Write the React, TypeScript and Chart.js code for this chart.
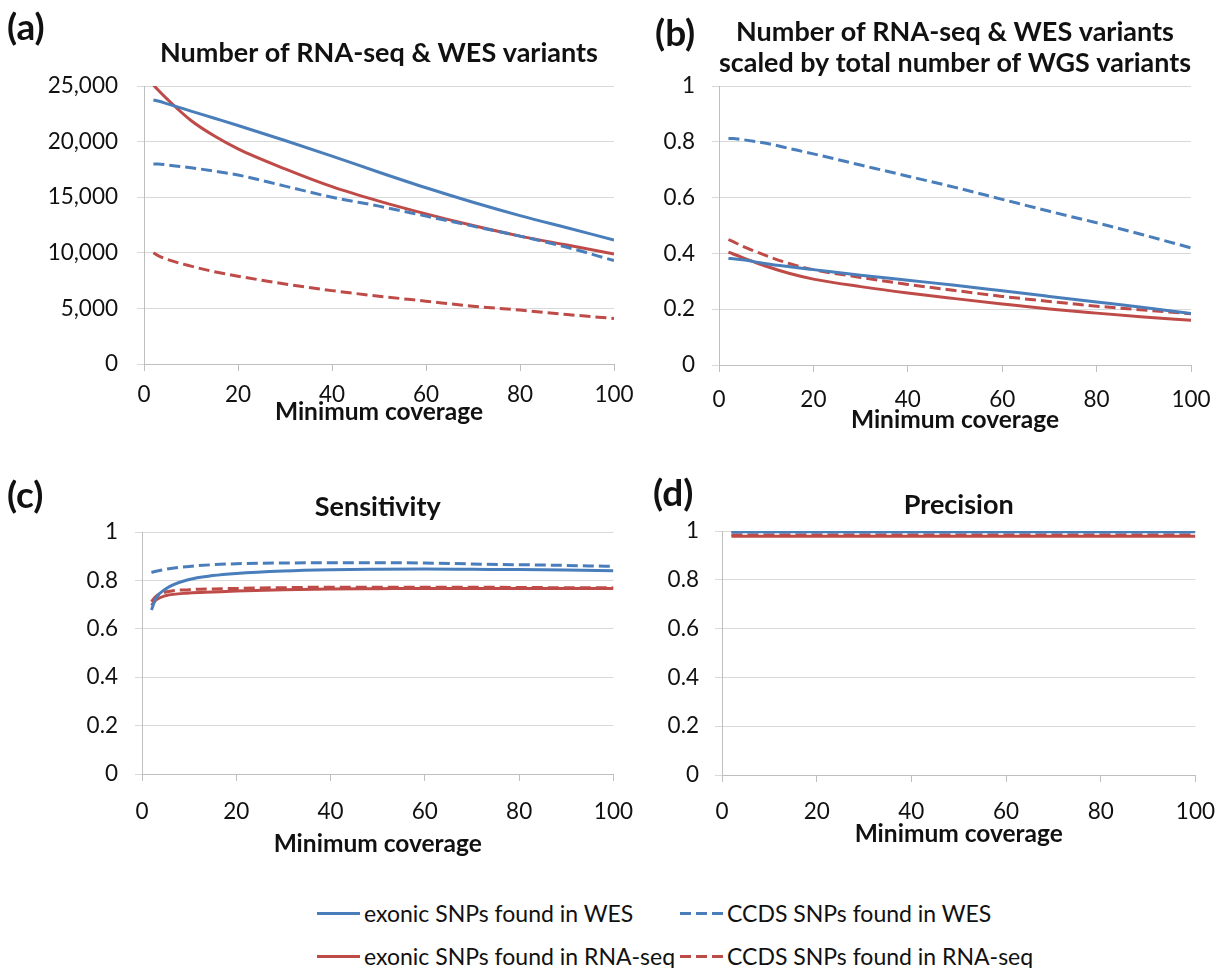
import React, { useEffect, useRef } from 'react';
import { Chart, registerables } from 'chart.js';

Chart.register(...registerables);

// ---------- data ----------
const coverage = [2, 3, 5, 10, 15, 20, 30, 40, 50, 60, 70, 80, 90, 100];

const seriesNames = [
  'exonic SNPs found in WES',
  'CCDS SNPs found in WES',
  'exonic SNPs found in RNA-seq',
  'CCDS SNPs found in RNA-seq',
];

// (a) Number of RNA-seq & WES variants
const aExonicWES = [23750, 23650, 23400, 22750, 22100, 21450, 20100, 18700, 17250, 15850, 14550, 13350, 12250, 11150];
const aCcdsWES = [18000, 18000, 17900, 17650, 17350, 17000, 16000, 15000, 14200, 13300, 12400, 11500, 10500, 9300];
const aExonicRNA = [25100, 24650, 23800, 21900, 20500, 19350, 17550, 15950, 14650, 13500, 12450, 11500, 10700, 9900];
const aCcdsRNA = [10000, 9750, 9400, 8800, 8300, 7900, 7200, 6600, 6100, 5650, 5200, 4850, 4450, 4100];

// (b) scaled by total number of WGS variants
const bExonicWES = [0.382, 0.381, 0.377, 0.363, 0.352, 0.342, 0.322, 0.304, 0.286, 0.266, 0.246, 0.226, 0.206, 0.185];
const bCcdsWES = [0.812, 0.812, 0.808, 0.795, 0.776, 0.757, 0.717, 0.677, 0.637, 0.594, 0.551, 0.51, 0.466, 0.42];
const bExonicRNA = [0.405, 0.398, 0.385, 0.354, 0.328, 0.308, 0.281, 0.258, 0.238, 0.219, 0.201, 0.186, 0.172, 0.16];
const bCcdsRNA = [0.45, 0.442, 0.426, 0.392, 0.363, 0.342, 0.314, 0.289, 0.267, 0.246, 0.228, 0.211, 0.197, 0.184];

// (c) Sensitivity
const cExonicWES = [0.678, 0.728, 0.765, 0.804, 0.82, 0.829, 0.839, 0.844, 0.846, 0.847, 0.846, 0.845, 0.843, 0.84];
const cCcdsWES = [0.833, 0.838, 0.846, 0.858, 0.865, 0.869, 0.872, 0.873, 0.873, 0.872, 0.868, 0.865, 0.862, 0.858];
const cExonicRNA = [0.697, 0.72, 0.737, 0.748, 0.752, 0.756, 0.762, 0.765, 0.766, 0.767, 0.767, 0.767, 0.767, 0.767];
const cCcdsRNA = [0.712, 0.735, 0.752, 0.762, 0.765, 0.767, 0.77, 0.772, 0.772, 0.772, 0.772, 0.771, 0.77, 0.77];

// (d) Precision
const dExonicWES = [0.997, 0.997, 0.997, 0.997, 0.997, 0.997, 0.997, 0.997, 0.997, 0.997, 0.997, 0.997, 0.997, 0.997];
const dCcdsWES = [0.996, 0.996, 0.996, 0.996, 0.996, 0.996, 0.996, 0.996, 0.996, 0.996, 0.996, 0.996, 0.996, 0.996];
const dExonicRNA = [0.979, 0.979, 0.979, 0.979, 0.979, 0.979, 0.979, 0.979, 0.979, 0.979, 0.979, 0.979, 0.979, 0.979];
const dCcdsRNA = [0.984, 0.984, 0.984, 0.984, 0.984, 0.984, 0.984, 0.984, 0.984, 0.984, 0.984, 0.984, 0.984, 0.984];

const xTicks = [0, 20, 40, 60, 80, 100];

// ---------- styles ----------
const BLUE = '#4A7EBB';
const RED = '#BE4B48';
const GRID = '#D9D9D9';
const AXIS = '#BFBFBF';
const TEXT = '#111111';
const FONT = 'Lato, "Open Sans", sans-serif';
const DASH = [11, 5];

type PanelProps = {
  left: number;
  top: number;
  width: number;
  height: number;
  title: string[];
  titlePadTop: number;
  titlePadBottom: number;
  plotLeft: number; // relative to canvas
  plotBottom: number; // relative to canvas
  rightPad: number;
  yMax: number;
  yStep: number;
  yTickPad: number;
  xTickPad: number;
  xTitlePadBottom: number;
  series: number[][];
};

function formatY(v: number, yMax: number) {
  if (yMax > 1) return Number(v).toLocaleString('en-US');
  return String(Math.round(v * 10) / 10);
}

function Panel(p: PanelProps) {
  const ref = useRef<HTMLCanvasElement | null>(null);
  useEffect(() => {
    const styles = [
      { color: BLUE, dash: [] as number[] },
      { color: BLUE, dash: DASH },
      { color: RED, dash: [] as number[] },
      { color: RED, dash: DASH },
    ];
    const datasets = p.series.map((vals, i) => ({
      label: seriesNames[i],
      data: coverage.map((x, j) => ({ x, y: vals[j] })),
      borderColor: styles[i].color,
      borderDash: styles[i].dash,
      borderWidth: 3,
      pointRadius: 0,
      cubicInterpolationMode: 'monotone' as const,
      fill: false,
    }));
    const xHeight = p.height - p.plotBottom;
    const chart = new Chart(ref.current as HTMLCanvasElement, {
      type: 'line',
      data: { datasets },
      options: {
        animation: false,
        responsive: false,
        maintainAspectRatio: false,
        locale: 'en-US',
        layout: { padding: { left: 0, top: 0, right: p.rightPad, bottom: 0 } },
        plugins: {
          legend: { display: false },
          tooltip: { enabled: false },
          title: {
            display: true,
            text: p.title,
            fullSize: false,
            color: TEXT,
            font: { family: FONT, size: 27, weight: 'bold', lineHeight: 1.15 },
            padding: { top: p.titlePadTop, bottom: p.titlePadBottom },
          },
        },
        scales: {
          x: {
            type: 'linear',
            min: 0,
            max: 100,
            afterBuildTicks: (scale: any) => {
              scale.ticks = xTicks.map((v) => ({ value: v }));
            },
            afterFit: (scale: any) => {
              scale.height = xHeight;
            },
            ticks: {
              color: TEXT,
              font: { family: FONT, size: 22.5 },
              padding: p.xTickPad,
              maxRotation: 0,
              autoSkip: false,
            },
            grid: {
              drawOnChartArea: false,
              drawTicks: true,
              tickLength: 7,
              tickColor: AXIS,
              color: AXIS,
            },
            border: { display: true, color: AXIS, width: 1 },
            title: {
              display: true,
              text: 'Minimum coverage',
              color: TEXT,
              font: { family: FONT, size: 24.5, weight: 'bold', lineHeight: 1.2 },
              padding: { top: 0, bottom: p.xTitlePadBottom },
            },
          },
          y: {
            type: 'linear',
            min: 0,
            max: p.yMax,
            afterFit: (scale: any) => {
              scale.width = p.plotLeft;
            },
            ticks: {
              stepSize: p.yStep,
              color: TEXT,
              font: { family: FONT, size: 22.5 },
              padding: p.yTickPad,
              callback: (v: any) => formatY(Number(v), p.yMax),
            },
            grid: {
              color: GRID,
              lineWidth: 1,
              drawTicks: true,
              tickLength: 7,
              tickColor: GRID,
            },
            border: { display: true, color: AXIS, width: 1 },
          },
        },
      },
    } as any);
    return () => chart.destroy();
  }, []);
  return (
    <canvas
      ref={ref}
      width={p.width}
      height={p.height}
      style={{ position: 'absolute', left: p.left, top: p.top, width: p.width, height: p.height }}
    />
  );
}

function PanelLetter({ text, left, top }: { text: string; left: number; top: number }) {
  return (
    <div
      style={{
        position: 'absolute',
        left,
        top,
        fontFamily: FONT,
        fontWeight: 'bold',
        fontSize: 37,
        lineHeight: '40px',
        color: TEXT,
      }}
    >
      {text}
    </div>
  );
}

function LegendItem({ left, top, color, dashed, label }: { left: number; top: number; color: string; dashed: boolean; label: string }) {
  const bg = dashed
    ? `repeating-linear-gradient(to right, ${color} 0px, ${color} 11px, transparent 11px, transparent 16px)`
    : color;
  return (
    <div style={{ position: 'absolute', left, top: top - 15, height: 30, display: 'flex', alignItems: 'center' }}>
      <div style={{ width: 43, height: 3, background: bg }} />
      <span
        style={{
          marginLeft: 4,
          fontFamily: FONT,
          fontSize: 23,
          lineHeight: '30px',
          color: TEXT,
          whiteSpace: 'nowrap',
        }}
      >
        {label}
      </span>
    </div>
  );
}

export default function App() {
  return (
    <div style={{ position: 'absolute', left: 0, top: 0, width: 1231, height: 968, background: '#fff', overflow: 'hidden' }}>
      <Panel
        left={0}
        top={0}
        width={650}
        height={440}
        title={['Number of RNA-seq & WES variants']}
        titlePadTop={37.5}
        titlePadBottom={17.5}
        plotLeft={144}
        plotBottom={364}
        rightPad={36}
        yMax={25000}
        yStep={5000}
        yTickPad={19}
        xTickPad={10}
        xTitlePadBottom={13}
        series={[aExonicWES, aCcdsWES, aExonicRNA, aCcdsRNA]}
      />
      <Panel
        left={650}
        top={0}
        width={581}
        height={440}
        title={['Number of RNA-seq & WES variants', 'scaled by total number of WGS variants']}
        titlePadTop={16.5}
        titlePadBottom={7.5}
        plotLeft={69}
        plotBottom={365}
        rightPad={40}
        yMax={1}
        yStep={0.2}
        yTickPad={17}
        xTickPad={14}
        xTitlePadBottom={5}
        series={[bExonicWES, bCcdsWES, bExonicRNA, bCcdsRNA]}
      />
      <Panel
        left={0}
        top={440}
        width={650}
        height={430}
        title={['Sensitivity']}
        titlePadTop={51.5}
        titlePadBottom={9.5}
        plotLeft={142}
        plotBottom={334}
        rightPad={36}
        yMax={1}
        yStep={0.2}
        yTickPad={17}
        xTickPad={17}
        xTitlePadBottom={11}
        series={[cExonicWES, cCcdsWES, cExonicRNA, cCcdsRNA]}
      />
      <Panel
        left={650}
        top={440}
        width={581}
        height={430}
        title={['Precision']}
        titlePadTop={49.5}
        titlePadBottom={10.5}
        plotLeft={72}
        plotBottom={335}
        rightPad={30}
        yMax={1}
        yStep={0.2}
        yTickPad={16}
        xTickPad={16}
        xTitlePadBottom={21}
        series={[dExonicWES, dCcdsWES, dExonicRNA, dCcdsRNA]}
      />
      <PanelLetter text="(a)" left={7} top={6} />
      <PanelLetter text="(b)" left={655} top={12} />
      <PanelLetter text="(c)" left={7} top={474} />
      <PanelLetter text="(d)" left={653} top={472} />
      <LegendItem left={317} top={913} color={BLUE} dashed={false} label={seriesNames[0]} />
      <LegendItem left={680} top={913} color={BLUE} dashed={true} label={seriesNames[1]} />
      <LegendItem left={317} top={956} color={RED} dashed={false} label={seriesNames[2]} />
      <LegendItem left={680} top={956} color={RED} dashed={true} label={seriesNames[3]} />
    </div>
  );
}
